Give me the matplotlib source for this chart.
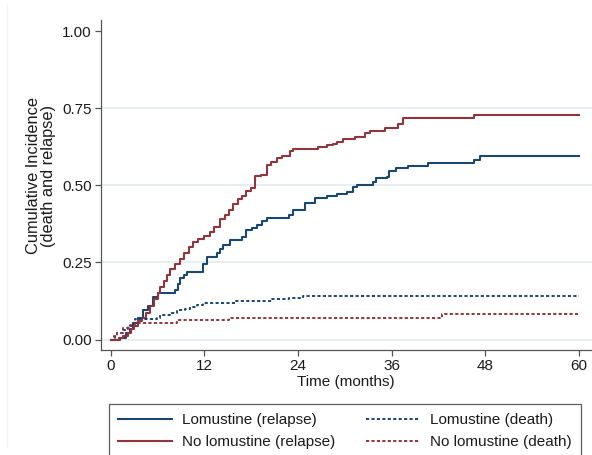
import matplotlib
matplotlib.use('Agg')
import matplotlib.pyplot as plt
from matplotlib.lines import Line2D

plt.rcParams['font.family'] = ['Liberation Sans', 'DejaVu Sans']

# step points (time in months, cumulative incidence)
t_lom_rel = [0, 1.2, 2.0, 2.5, 2.9, 3.5, 4.2, 4.8, 5.4, 6.1, 8.2, 8.6, 8.9, 9.4, 9.8, 11.8, 12.3,
             13.6, 14.0, 14.4, 15.3, 16.8, 17.4, 18.1, 18.7, 19.4, 20.0, 22.9, 23.4, 24.9, 26.2,
             27.7, 29.0, 30.3, 31.1, 31.5, 33.6, 34.0, 35.4, 35.6, 36.6, 38.1, 40.6, 46.6, 47.3, 60]
y_lom_rel = [0, 0.005, 0.02, 0.035, 0.054, 0.07, 0.095, 0.11, 0.138, 0.15, 0.16, 0.18, 0.2, 0.21,
             0.22, 0.245, 0.268, 0.28, 0.295, 0.306, 0.322, 0.332, 0.354, 0.36, 0.37, 0.385, 0.394,
             0.403, 0.42, 0.443, 0.459, 0.465, 0.471, 0.478, 0.494, 0.5, 0.51, 0.523, 0.527, 0.546,
             0.556, 0.562, 0.572, 0.582, 0.595, 0.595]

t_nolom_rel = [0, 1.0, 1.6, 2.2, 2.6, 3.0, 3.5, 4.0, 4.5, 5.0, 5.5, 6.0, 6.3, 6.8, 7.2, 7.6, 8.2,
               8.9, 9.4, 10.0, 10.6, 11.2, 12.0, 12.7, 13.3, 14.0, 14.6, 15.2, 15.7, 16.3, 16.8,
               17.4, 18.0, 18.5, 19.2, 20.0, 20.6, 21.3, 22.0, 23.0, 23.4, 26.6, 27.7, 28.5, 29.0,
               29.8, 31.3, 32.6, 33.2, 35.1, 36.8, 37.4, 46.6, 60]
y_nolom_rel = [0, 0.005, 0.01, 0.02, 0.035, 0.045, 0.06, 0.07, 0.085, 0.11, 0.13, 0.15, 0.17,
               0.19, 0.21, 0.23, 0.245, 0.26, 0.28, 0.30, 0.315, 0.325, 0.335, 0.35, 0.365, 0.39,
               0.405, 0.42, 0.44, 0.455, 0.465, 0.48, 0.49, 0.53, 0.535, 0.565, 0.575, 0.59, 0.595,
               0.61, 0.617, 0.623, 0.63, 0.635, 0.64, 0.65, 0.656, 0.67, 0.677, 0.687, 0.70, 0.717,
               0.727, 0.727]

t_lom_death = [0, 0.5, 0.8, 1.6, 2.2, 2.7, 3.1, 5.9, 6.3, 7.6, 8.5, 9.5, 10.1, 11.0, 11.8, 16.0,
               20.7, 22.9, 24.6, 60]
y_lom_death = [0, 0.01, 0.02, 0.03, 0.045, 0.054, 0.066, 0.07, 0.078, 0.085, 0.095, 0.1, 0.105,
               0.112, 0.118, 0.124, 0.13, 0.134, 0.14, 0.14]

t_nolom_death = [0, 0.4, 0.8, 1.6, 2.5, 3.1, 8.5, 15.1, 42.4, 60]
y_nolom_death = [0, 0.01, 0.02, 0.037, 0.047, 0.054, 0.063, 0.07, 0.083, 0.083]

x_ticks = [0, 12, 24, 36, 48, 60]
y_ticks = [0, 0.25, 0.5, 0.75, 1.0]
labels = ['Lomustine (relapse)', 'No lomustine (relapse)',
          'Lomustine (death)', 'No lomustine (death)']

navy = '#1a476f'
maroon = '#90353b'
txt = '#1a1a1a'
dots = (0, (1.6, 1.2))

fig = plt.figure(figsize=(5.92, 4.55), dpi=100)
ax = fig.add_axes([101 / 592, 1 - 350 / 455, 491 / 592, 330 / 455])

# faint border of the graph region on the left
fig.add_artist(Line2D([7 / 592, 7 / 592], [1 - 5 / 455, 1 - 447 / 455], color='#f1f5f7',
                      lw=1.0, transform=fig.transFigure))

for yy in y_ticks[:-1]:
    ax.axhline(yy, color='#e6eef1', lw=1.4, zorder=0)

ax.step(t_lom_rel, y_lom_rel, where='post', color=navy, lw=1.5)
ax.step(t_nolom_rel, y_nolom_rel, where='post', color=maroon, lw=1.5)
ax.step(t_lom_death, y_lom_death, where='post', color=navy, lw=1.4, ls=dots)
ax.step(t_nolom_death, y_nolom_death, where='post', color=maroon, lw=1.4, ls=dots)

ax.set_xlim(-1.243, 61.67)
ax.set_ylim(-0.034, 1.036)
ax.set_xticks(x_ticks)
ax.set_yticks(y_ticks)
ax.set_yticklabels(['%.2f' % v for v in y_ticks])
ax.tick_params(direction='out', length=4.5, width=0.9, color='#555555',
               labelsize=11, labelcolor=txt, pad=2)
for s in ['top', 'right']:
    ax.spines[s].set_visible(False)
for s in ['left', 'bottom']:
    ax.spines[s].set_color('#555555')
    ax.spines[s].set_linewidth(0.9)

fig.text(346 / 592, 1 - 382 / 455, 'Time (months)', ha='center', va='center',
         fontsize=11, color=txt)
fig.text(41 / 592, 1 - 176 / 455, 'Cumulative Incidence\n(death and relapse)', ha='center',
         va='center', rotation=90, fontsize=11.8, color=txt, linespacing=0.95)

handles = [Line2D([], [], color=navy, lw=1.5),
           Line2D([], [], color=maroon, lw=1.5),
           Line2D([], [], color=navy, lw=1.4, ls=dots),
           Line2D([], [], color=maroon, lw=1.4, ls=dots)]
leg = fig.legend(handles, labels, ncol=2, loc='upper left',
                 bbox_to_anchor=(109 / 592, 1 - 404 / 455, 472 / 592, 0), mode='expand',
                 fontsize=11, frameon=True, fancybox=False, handlelength=3.5,
                 handletextpad=0.7, borderpad=0.6, labelspacing=0.51, borderaxespad=0)
leg.get_frame().set_edgecolor('#333333')
leg.get_frame().set_linewidth(0.9)
for t in leg.get_texts():
    t.set_color(txt)

fig.savefig('out.png', dpi=100)
